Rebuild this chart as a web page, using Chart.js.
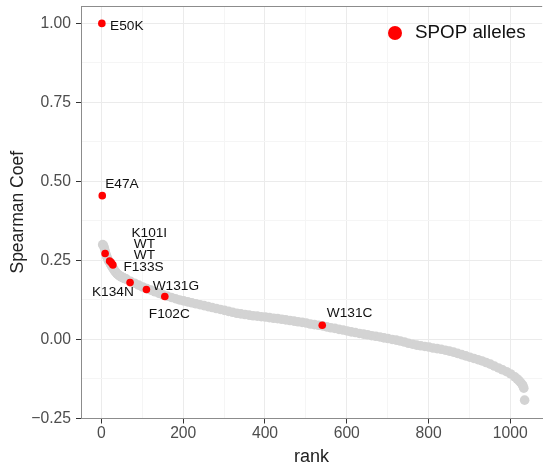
<!DOCTYPE html>
<html>
<head>
<meta charset="utf-8">
<script src="https://cdn.jsdelivr.net/npm/chart.js@4.4.1/dist/chart.umd.min.js"></script>
<style>
  html, body { margin: 0; padding: 0; background: #fff; overflow: hidden; width: 543px; height: 470px; }
  canvas { display: block; }
</style>
</head>
<body>
<!-- a few px wider than the window: the panel runs off the right edge like the original -->
<canvas id="rankChart" width="547" height="470"></canvas>
<script>
/* ================= DATA ================= */
// all genes, sorted by coefficient (grey cloud)
const grayRank = [
  3, 5, 7, 9, 11, 13, 15, 17, 19, 21, 23, 25, 27, 29, 31, 33, 35, 37, 39, 41,
  43, 45, 47, 49, 51, 53, 55, 57, 59,
  61, 71, 81, 91, 101, 111, 121, 131, 141, 151, 161, 171, 181, 191, 201, 211,
  221, 231, 241, 251, 261, 271, 281, 291, 301, 311, 321, 331, 341, 351, 361,
  371, 381, 391, 401, 411, 421, 431, 441, 451, 461, 471, 481, 491, 501, 511,
  521, 531, 541, 551, 561, 571, 581, 591, 601, 611, 621, 631, 641, 651, 661,
  671, 681, 691, 701, 711, 721, 731, 741, 751, 761, 771, 781, 791, 801, 811,
  821, 831, 841, 851, 861, 871, 881, 891, 901, 911, 921, 931, 941, 951, 961,
  971, 981, 991, 1001, 1011, 1017, 1021, 1025, 1029, 1031, 1033, 1035
];
const grayCoef = [
  0.300, 0.297, 0.290, 0.280, 0.270, 0.262, 0.256, 0.250, 0.246, 0.242,
  0.237, 0.232, 0.228, 0.224, 0.220, 0.216, 0.213, 0.210, 0.207, 0.205,
  0.203, 0.201, 0.199, 0.198, 0.197, 0.195, 0.194, 0.193, 0.192,
  0.191, 0.184, 0.178, 0.172, 0.166, 0.161, 0.156, 0.151, 0.146, 0.141,
  0.137, 0.133, 0.129, 0.125, 0.122, 0.119, 0.116, 0.113, 0.110, 0.107,
  0.104, 0.101, 0.098, 0.095, 0.092, 0.089, 0.086, 0.083, 0.081, 0.079,
  0.077, 0.075, 0.074, 0.072, 0.071, 0.069, 0.067, 0.066, 0.064, 0.062,
  0.060, 0.058, 0.056, 0.054, 0.052, 0.049, 0.047, 0.045, 0.043, 0.040,
  0.037, 0.035, 0.032, 0.030, 0.027, 0.024, 0.022, 0.019, 0.017, 0.015,
  0.012, 0.010, 0.008, 0.005, 0.003, 0.000, -0.002, -0.005, -0.008, -0.012,
  -0.015, -0.018, -0.020, -0.022, -0.024, -0.027, -0.029, -0.031, -0.034, -0.037,
  -0.040, -0.044, -0.048, -0.052, -0.056, -0.060, -0.064, -0.068, -0.073, -0.078,
  -0.084, -0.090, -0.096, -0.102, -0.109, -0.118, -0.125, -0.130, -0.136, -0.142,
  -0.147, -0.154, -0.192
];

// SPOP alleles (red)
const alleleNames = ["E50K", "E47A", "K101I", "WT", "WT", "F133S", "K134N", "W131G", "F102C", "W131C"];
const alleleRank = [1, 2, 9, 20, 24, 28, 70, 110, 155, 540];
const alleleCoef = [1.000, 0.455, 0.272, 0.248, 0.243, 0.236, 0.180, 0.158, 0.136, 0.045];
// where each text label sits (data units, text centre)
const labelRank = [62, 50, 117, 105, 105, 103, 28, 182, 166, 607];
const labelCoef = [0.991, 0.491, 0.335, 0.302, 0.267, 0.227, 0.149, 0.170, 0.079, 0.082];

const xMajor = [0, 200, 400, 600, 800, 1000];
const xMinor = [100, 300, 500, 700, 900];
const xLabels = ["0", "200", "400", "600", "800", "1000"];
const yMajor = [-0.25, 0, 0.25, 0.5, 0.75, 1.0];
const yMinor = [-0.125, 0.125, 0.375, 0.625, 0.875];
const yLabels = ["\u22120.25", "0.00", "0.25", "0.50", "0.75", "1.00"];

const FONT = "'Liberation Sans', Arial, Helvetica, sans-serif";

/* ================= HELPERS ================= */
function tickSetter(major, minor) {
  return scale => {
    scale.ticks = [...major, ...minor].sort((a, b) => a - b).map(v => ({ value: v }));
  };
}
const isMajor = (list, v) => list.some(m => Math.abs(m - v) < 1e-9);

/* ================= PLUGINS ================= */
const panelBorder = {
  id: "panelBorder",
  afterDraw(chart) {
    const { ctx, chartArea: a } = chart;
    ctx.save();
    ctx.strokeStyle = "#8c8c8c";
    ctx.lineWidth = 1;
    ctx.beginPath();
    ctx.moveTo(a.left, a.top + 0.5);
    ctx.lineTo(a.right, a.top + 0.5);
    ctx.stroke();
    ctx.restore();
  }
};

const alleleLabels = {
  id: "alleleLabels",
  afterDatasetsDraw(chart) {
    const { ctx, scales: { x, y } } = chart;
    ctx.save();
    ctx.font = `13.7px ${FONT}`;
    ctx.fillStyle = "#111";
    ctx.textAlign = "center";
    ctx.textBaseline = "middle";
    alleleNames.forEach((n, i) => {
      ctx.fillText(n, x.getPixelForValue(labelRank[i]), y.getPixelForValue(labelCoef[i]));
    });
    ctx.restore();
  }
};

const insideLegend = {
  id: "insideLegend",
  afterDraw(chart) {
    const { ctx } = chart;
    ctx.save();
    ctx.fillStyle = "#ff0000";
    ctx.beginPath();
    ctx.arc(395, 33, 7, 0, Math.PI * 2);
    ctx.fill();
    ctx.font = `18.8px ${FONT}`;
    ctx.fillStyle = "#111";
    ctx.textAlign = "left";
    ctx.textBaseline = "middle";
    ctx.fillText("SPOP alleles", 415, 33);
    ctx.restore();
  }
};

/* ================= CHART ================= */
new Chart(document.getElementById("rankChart"), {
  type: "scatter",
  data: {
    datasets: [
      {
        label: "SPOP alleles",
        data: alleleRank.map((r, i) => ({ x: r, y: alleleCoef[i] })),
        backgroundColor: "#ff0000",
        borderWidth: 0,
        pointRadius: 3.8
      },
      {
        label: "genes",
        data: grayRank.map((r, i) => ({ x: r, y: grayCoef[i] })),
        backgroundColor: "#d3d3d3",
        borderWidth: 0,
        pointRadius: 4.8
      }
    ]
  },
  options: {
    responsive: false,
    animation: false,
    events: [],
    layout: { padding: { top: 6, left: 0, right: 0, bottom: 0 } },
    plugins: { legend: { display: false }, tooltip: { enabled: false } },
    scales: {
      x: {
        type: "linear",
        min: -50,
        max: 1078,
        afterBuildTicks: tickSetter(xMajor, xMinor),
        afterFit: s => { s.height = 51.5; s.paddingLeft = 0; s.paddingRight = 0; },
        ticks: {
          padding: 1,
          color: "#4d4d4d",
          font: { family: FONT, size: 15.7 },
          maxRotation: 0,
          autoSkip: false,
          callback: v => isMajor(xMajor, v) ? xLabels[xMajor.findIndex(m => Math.abs(m - v) < 1e-9)] : ""
        },
        grid: {
          color: c => isMajor(xMajor, c.tick.value) ? "#ebebeb" : "#f5f5f5",
          tickColor: c => isMajor(xMajor, c.tick.value) ? "#333" : "rgba(0,0,0,0)",
          tickLength: 5,
          lineWidth: 1
        },
        border: { color: "#8c8c8c", width: 1 },
        title: {
          display: true,
          text: "rank",
          color: "#222",
          font: { family: FONT, size: 18 },
          padding: { top: 0, bottom: 2.5 }
        }
      },
      y: {
        type: "linear",
        min: -0.25,
        max: 1.055,
        afterBuildTicks: tickSetter(yMajor, yMinor),
        afterFit: s => { s.width = 81; s.paddingTop = 0; s.paddingBottom = 0; },
        ticks: {
          padding: 5,
          color: "#4d4d4d",
          font: { family: FONT, size: 15.7 },
          autoSkip: false,
          callback: v => isMajor(yMajor, v) ? yLabels[yMajor.findIndex(m => Math.abs(m - v) < 1e-9)] : ""
        },
        grid: {
          color: c => isMajor(yMajor, c.tick.value) ? "#ebebeb" : "#f5f5f5",
          tickColor: c => isMajor(yMajor, c.tick.value) ? "#333" : "rgba(0,0,0,0)",
          tickLength: 5,
          lineWidth: 1
        },
        border: { color: "#8c8c8c", width: 1 },
        title: {
          display: true,
          text: "Spearman Coef",
          color: "#222",
          font: { family: FONT, size: 17.5 },
          padding: { top: 7.5, bottom: 0 }
        }
      }
    }
  },
  plugins: [panelBorder, alleleLabels, insideLegend]
});
</script>
</body>
</html>
